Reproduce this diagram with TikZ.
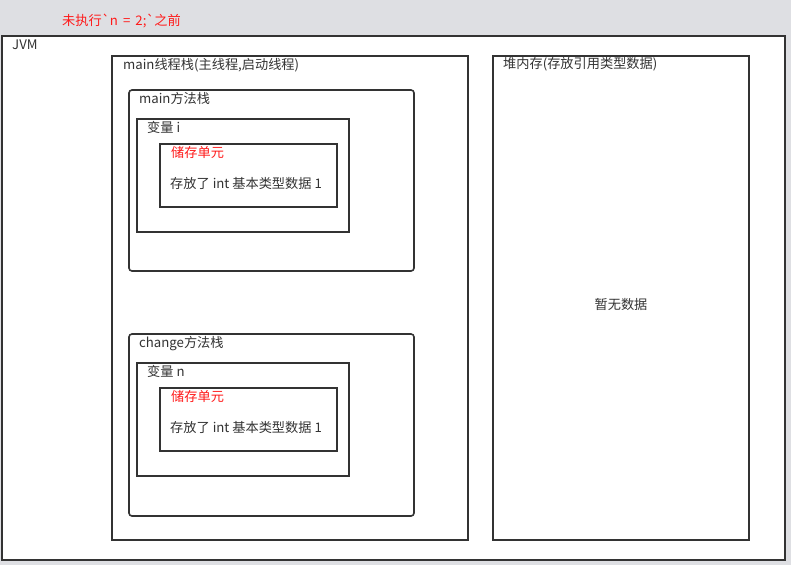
\documentclass[tikz,border=0pt]{standalone}
\usepackage{fontspec}
\setmainfont{Noto Sans CJK SC}
\newfontfamily\tickfont[Ligatures=TeXOff]{Noto Sans CJK SC}
\definecolor{bg}{HTML}{DEDFE3}
\definecolor{line}{HTML}{333333}
\definecolor{txt}{HTML}{333333}
\definecolor{mark}{HTML}{FF1A1A}
\newcommand{\bq}{{\tickfont\symbol{96}}}
\begin{document}
\begin{tikzpicture}[x=1pt,y=-1pt]
\tikzstyle{box}=[draw=line,line width=1.6pt,fill=white,inner sep=0pt,outer sep=0pt,anchor=north west]
\tikzstyle{stack}=[box,rounded corners=3pt]
\tikzstyle{label}=[inner sep=0pt,anchor=base west,text=txt,font=\fontsize{13.2}{15}\selectfont]
\tikzstyle{redlabel}=[label,text=mark]
\fill[bg] (0,0) rectangle (791,565);
\useasboundingbox (0,0) rectangle (791,565);
\path (62,25) node[redlabel](title){未执行\bq n\ \,=\ \,2;\bq 之前};

\path (2,36) node[box,minimum width=783pt,minimum height=524pt](jvm){};
\path ([xshift=10pt,yshift=-13pt]jvm.north west) node[label](jvml){JVM};

\path (112,56) node[box,minimum width=356pt,minimum height=484pt](thread){};
\path ([xshift=11pt,yshift=-13pt]thread.north west) node[label](threadl){main线程栈(主线程,启动线程)};

\path (493,56) node[box,minimum width=256pt,minimum height=484pt](heap){};
\path ([xshift=10pt,yshift=-12pt]heap.north west) node[label](heapl){堆内存(存放引用类型数据)};
\path ([yshift=-6pt]heap.center) node[label,anchor=center](empty){暂无数据};

\path (129,90) node[stack,minimum width=285pt,minimum height=181pt](mainst){};
\path ([xshift=10pt,yshift=-13pt]mainst.north west) node[label](mainstl){main方法栈};
\path (137,119) node[box,minimum width=212pt,minimum height=113pt](vari){};
\path ([xshift=10pt,yshift=-13pt]vari.north west) node[label](varil){变量 i};
\path (160,144) node[box,minimum width=177pt,minimum height=63pt](celli){};
\path ([xshift=11pt,yshift=-13pt]celli.north west) node[redlabel](cellil){储存单元};
\path ([xshift=10pt,yshift=-44pt]celli.north west) node[label](celliv){存放了 int 基本类型数据 1};

\path (129,334) node[stack,minimum width=285pt,minimum height=182pt](changest){};
\path ([xshift=10pt,yshift=-13pt]changest.north west) node[label](changestl){change方法栈};
\path (137,363) node[box,minimum width=212pt,minimum height=113pt](varn){};
\path ([xshift=10pt,yshift=-13pt]varn.north west) node[label](varnl){变量 n};
\path (160,388) node[box,minimum width=177pt,minimum height=63pt](celln){};
\path ([xshift=11pt,yshift=-13pt]celln.north west) node[redlabel](cellnl){储存单元};
\path ([xshift=10pt,yshift=-44pt]celln.north west) node[label](cellnv){存放了 int 基本类型数据 1};
\end{tikzpicture}
\end{document}
